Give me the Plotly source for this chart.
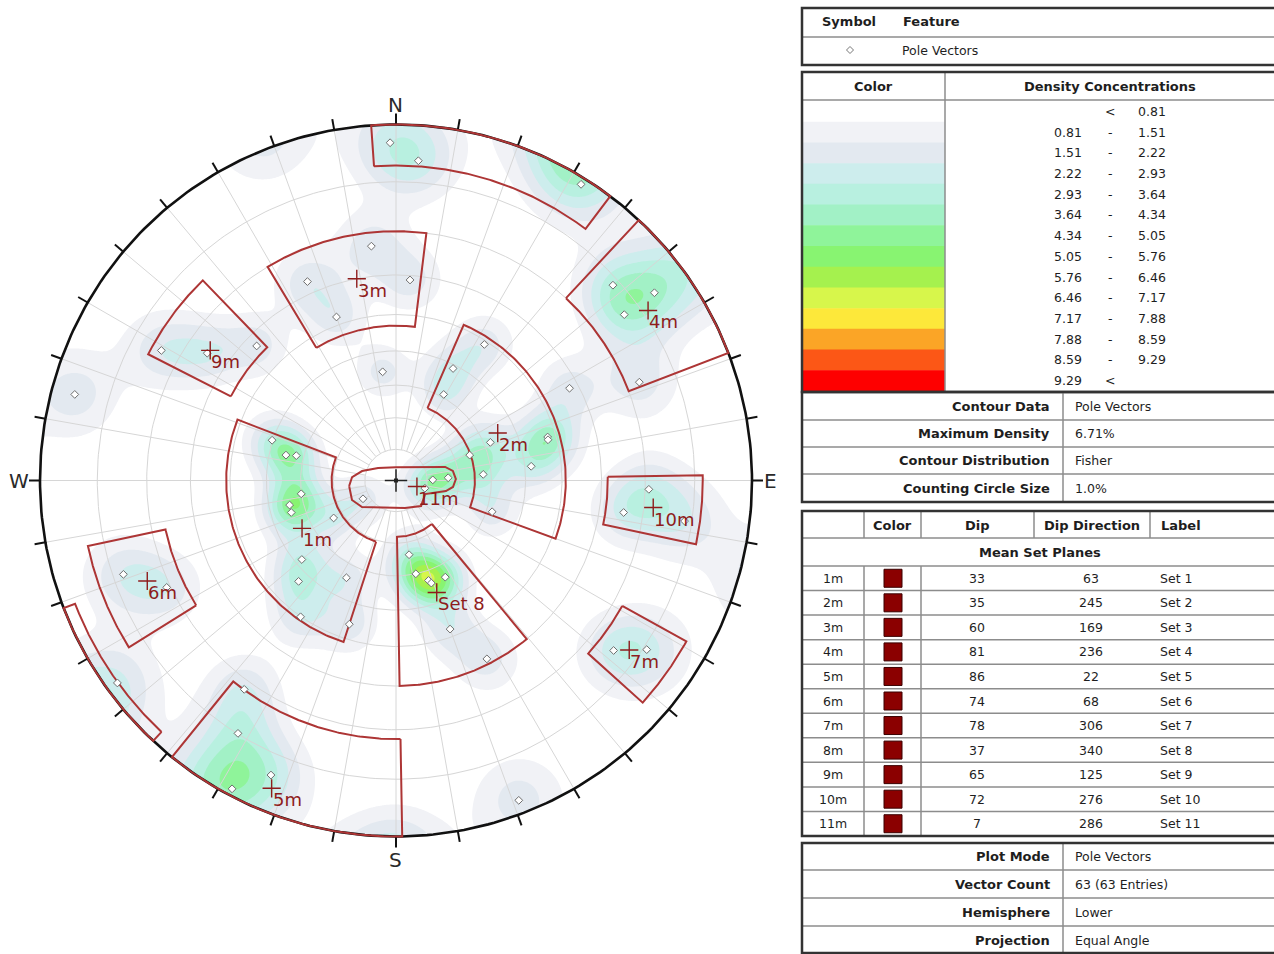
import numpy as np
import plotly.graph_objects as go

W, H = 1274, 954
CX, CY, R = 396.0, 480.5, 356.0   # stereonet centre and radius in page pixels

# ---- pole vectors (plane dip / dip direction, degrees) ----
pole_dip = [87.0, 67.0, 62.9, 52.1, 34.2, 74.0, 65.2, 57.1, 86.1, 40.2, 35.2, 32.2,
            84.0, 88.9, 78.7, 83.8, 76.8, 72.8, 58.9, 49.0, 38.9, 30.9, 57.8, 47.8,
            47.7, 31.9, 41.8, 27.6, 11.8, 16.7, 9.6, 31.7, 70.8, 65.7, 78.6, 23.9,
            30.0, 32.9, 33.9, 33.9, 47.9, 58.7, 75.6, 80.7, 87.8, 30.1, 34.1, 34.2,
            23.1, 12.1, 38.1, 43.0, 34.1, 50.1, 46.0, 78.0, 70.8, 88.1, 71.9, 79.9,
            83.9, 88.9, 24.7]
pole_dipdir = [179, 174, 156, 160, 173, 119, 124, 134, 105, 108, 103, 104,
               184, 212, 228, 234, 234, 248, 184, 213, 207, 209, 242, 254,
               255, 248, 264, 266, 269, 267, 285, 288, 272, 278, 278, 350,
               348, 342, 341, 333, 340, 333, 308, 304, 339, 82, 77, 73,
               59, 61, 50, 44, 27, 35, 18, 71, 65, 54, 36, 32,
               23, 28, 251]

# ---- mean set planes ----
set_ids = ["1m", "2m", "3m", "4m", "5m", "6m", "7m", "8m", "9m", "10m", "11m"]
set_dip = [33, 35, 60, 81, 86, 74, 78, 37, 65, 72, 7]
set_dipdir = [63, 245, 169, 236, 22, 68, 306, 340, 125, 276, 286]
set_labels = ["Set 1", "Set 2", "Set 3", "Set 4", "Set 5", "Set 6", "Set 7",
              "Set 8", "Set 9", "Set 10", "Set 11"]
set_plot_text = ["1m", "2m", "3m", "4m", "5m", "6m", "7m", "Set 8", "9m", "10m", "11m"]

# ---- set windows (dip direction / dip limits) for sets 1-10 ----
win_dd_lo = [18, 203.5, 149, 223, -1, 58, 299, 320.5, 117, 269]
win_dd_hi = [111, 290, 187, 249, 39, 78, 312, 359, 136, 282]
win_dip_lo = [20.5, 25, 47, 70, 72, 67, 72, 18, 55, 61.5]
win_dip_hi = [51, 51, 70, 92, 97, 83, 86, 60, 76, 81.5]
# dip-direction limits of the part of a window that wraps past the primitive
win_wrap_dd_lo = [None, None, None, 223, -4, None, None, None, None, None]
win_wrap_dd_hi = [None, None, None, 249, 37, None, None, None, None, None]

# ---- set 11 window outline (dip / dip direction of vertices) ----
set11_dip = [15.1, 14.1, 11.3, 7.0, 4.3, 8.9, 16.3, 18.4, 19.1, 18.3, 16.3, 10.3,
             11.5, 9.3, 13.8, 15.4]
set11_dipdir = [83.3, 94.5, 105.6, 124.8, 180, 240.6, 254.6, 260.5, 268.6, 276.5,
                281.9, 295, 315.6, 341.9, 52.1, 66.1]

# ---- density legend ----
density_levels = [0.81, 1.51, 2.22, 2.93, 3.64, 4.34, 5.05, 5.76, 6.46, 7.17, 7.88, 8.59, 9.29]
density_colors = ["#ffffff", "#f1f2f6", "#e3e9f0", "#cdeded", "#b8f0e0", "#a2f1c6",
                  "#8ff49a", "#88f471", "#a5f14e", "#d7f64b", "#fde83a", "#fba526",
                  "#fc5716", "#fe0000"]
max_density = 6.71
fisher_k = 100.0

RED = "#ad3535"
DARKRED = "#8e1c1c"


def proj(dip, dd):
    """Equal-angle lower-hemisphere position of the pole to a plane."""
    dip = np.asarray(dip, dtype=float)
    t = np.radians(np.asarray(dd, dtype=float) + 180.0)
    r = np.tan(np.radians(dip) / 2.0)
    return r * np.sin(t), r * np.cos(t)


def unit(dip, dd):
    d = np.radians(np.asarray(dip, dtype=float))
    t = np.radians(np.asarray(dd, dtype=float) + 180.0)
    return np.stack([np.sin(d) * np.sin(t), np.sin(d) * np.cos(t), np.cos(d)], axis=-1)


fig = go.Figure()

# ---- Fisher density of the poles ----
g = np.linspace(-1.03, 1.03, 421)
X, Y = np.meshgrid(g, g)
rho2 = X ** 2 + Y ** 2
U = np.stack([2 * X, 2 * Y, 1 - rho2], axis=-1) / (1 + rho2)[..., None]
P = unit(pole_dip, pole_dipdir)
dots = np.abs(U @ P.T)
dens = np.exp(fisher_k * (dots - 1.0)).sum(axis=-1)
inside = rho2 <= 1.0
dens = dens / dens[inside].max() * max_density

step = (density_levels[-1] - density_levels[0]) / 12
ncol = len(density_colors)
colorscale = [[i / (ncol - 1), c] for i, c in enumerate(density_colors)]
fig.add_trace(go.Contour(
    x=g, y=g, z=dens, colorscale=colorscale, showscale=False, hoverinfo="skip",
    autocontour=False,
    contours=dict(start=density_levels[0], end=density_levels[0] + 12 * step,
                  size=step, coloring="fill", showlines=False),
    line=dict(width=0)))

# white mask outside the primitive
th = np.radians(np.linspace(225, 585, 361))
mx = [-3, -3, 3, 3, -3] + list(np.cos(th)) + [-3]
my = [-3, 3, 3, -3, -3] + list(np.sin(th)) + [-3]
fig.add_trace(go.Scatter(x=mx, y=my, mode="lines", fill="toself", fillcolor="white",
                         line=dict(width=0, color="white"), hoverinfo="skip", showlegend=False))

# ---- polar grid ----
gx, gy = [], []
a = np.radians(np.linspace(0, 360, 361))
for d in range(10, 90, 10):
    r = np.tan(np.radians(d) / 2)
    gx += list(r * np.sin(a)) + [None]
    gy += list(r * np.cos(a)) + [None]
r10 = np.tan(np.radians(5))
for az in range(0, 360, 10):
    r0 = 0.0 if az % 90 == 0 else r10
    s, c = np.sin(np.radians(az)), np.cos(np.radians(az))
    gx += [r0 * s, s, None]
    gy += [r0 * c, c, None]
fig.add_trace(go.Scatter(x=gx, y=gy, mode="lines", line=dict(color="#d6d6d6", width=1),
                         hoverinfo="skip", showlegend=False))

# ---- primitive circle and ticks ----
fig.add_trace(go.Scatter(x=np.sin(a), y=np.cos(a), mode="lines",
                         line=dict(color="#111111", width=2.6), hoverinfo="skip", showlegend=False))
tx, ty = [], []
tick_len = 11 / R
for az in range(0, 360, 10):
    s, c = np.sin(np.radians(az)), np.cos(np.radians(az))
    tx += [s, (1 + tick_len) * s, None]
    ty += [c, (1 + tick_len) * c, None]
fig.add_trace(go.Scatter(x=tx, y=ty, mode="lines", line=dict(color="#111111", width=2),
                         hoverinfo="skip", showlegend=False))


# ---- set windows ----
def sector(d1, d2, a1, a2):
    aa = np.linspace(a1, a2, 120)
    x1, y1 = proj(np.full_like(aa, d1), aa)
    x2, y2 = proj(np.full_like(aa, d2), aa[::-1])
    xs = list(x1) + list(x2) + [x1[0], None]
    ys = list(y1) + list(y2) + [y1[0], None]
    return xs, ys


wx, wy = [], []
for lo, hi, d1, d2, wlo, whi in zip(win_dd_lo, win_dd_hi, win_dip_lo, win_dip_hi,
                                    win_wrap_dd_lo, win_wrap_dd_hi):
    xs, ys = sector(d1, min(d2, 90), lo, hi)
    wx += xs
    wy += ys
    if d2 > 90:
        xs, ys = sector(180 - d2, 90, wlo + 180, whi + 180)
        wx += xs
        wy += ys
sx, sy = proj(set11_dip, set11_dipdir)
wx += list(sx) + [sx[0], None]
wy += list(sy) + [sy[0], None]
fig.add_trace(go.Scatter(x=wx, y=wy, mode="lines", line=dict(color=RED, width=2),
                         hoverinfo="skip", showlegend=False))

# ---- pole vectors ----
px_, py_ = proj(pole_dip, pole_dipdir)
fig.add_trace(go.Scatter(x=px_, y=py_, mode="markers", hoverinfo="skip", showlegend=False,
                         marker=dict(symbol="diamond", size=6, color="white",
                                     line=dict(color="#6e6e6e", width=1))))

# ---- centre cross ----
fig.add_trace(go.Scatter(x=[0], y=[0], mode="markers", hoverinfo="skip", showlegend=False,
                         marker=dict(symbol="cross-thin", size=16,
                                     line=dict(color="#222222", width=1.5))))
fig.add_trace(go.Scatter(x=[0], y=[0], mode="markers", hoverinfo="skip", showlegend=False,
                         marker=dict(symbol="square", size=4, color="#222222")))

# ---- mean set poles ----
mx_, my_ = proj(set_dip, set_dipdir)
fig.add_trace(go.Scatter(x=mx_, y=my_, mode="markers", hoverinfo="skip", showlegend=False,
                         marker=dict(symbol="cross-thin", size=13,
                                     line=dict(color=DARKRED, width=1.4))))

annots = []
for x, y, t in zip(mx_, my_, set_plot_text):
    annots.append(dict(x=x, y=y, xref="x", yref="y", text=t, showarrow=False,
                       xanchor="left", yanchor="top", xshift=-1, yshift=1,
                       font=dict(family="DejaVu Sans", size=18, color=DARKRED)))

for lab, (qx, qy) in {"N": (395, 105), "S": (395, 860), "W": (19, 481), "E": (770, 481)}.items():
    annots.append(dict(x=(qx - CX) / R, y=(CY - qy) / R, xref="x", yref="y", text=lab,
                       showarrow=False, xanchor="center", yanchor="middle",
                       font=dict(family="DejaVu Sans", size=20, color="#2a2a2a")))

# ---- information tables ----
shapes = []
OUT = "#333333"
INN = "#8c8c8c"
TXT = "#1e1e1e"
XR = 1292


def fx(x):
    return x / W


def fy(y):
    return 1 - y / H


def seg(x0, y0, x1, y1, color=INN, width=1.5):
    shapes.append(dict(type="line", xref="paper", yref="paper", x0=fx(x0), y0=fy(y0),
                       x1=fx(x1), y1=fy(y1), line=dict(color=color, width=width)))


def rect(x0, y0, x1, y1, fill=None, color=OUT, width=2.5):
    shapes.append(dict(type="rect", xref="paper", yref="paper", x0=fx(x0), y0=fy(y0),
                       x1=fx(x1), y1=fy(y1), fillcolor=fill or "rgba(0,0,0,0)",
                       line=dict(color=color, width=width)))


def txt(x, y, s, anchor="left", bold=False, size=12.5):
    annots.append(dict(x=fx(x), y=fy(y), xref="paper", yref="paper",
                       text=f"<b>{s}</b>" if bold else s, showarrow=False,
                       xanchor=anchor, yanchor="middle",
                       font=dict(family="DejaVu Sans", size=13 if bold else size, color=TXT)))


# symbol table
seg(802, 37, XR, 37)
rect(802, 8, XR, 65)
txt(849, 22, "Symbol", "center", True)
txt(901, 22, "Feature", "left", True)
d = 3.5
shapes.append(dict(type="path", xref="paper", yref="paper",
                   path=f"M {fx(850)},{fy(50 - d)} L {fx(850 + d)},{fy(50)} L {fx(850)},{fy(50 + d)} "
                        f"L {fx(850 - d)},{fy(50)} Z",
                   line=dict(color="#777777", width=1), fillcolor="white"))
txt(900, 50, "Pole Vectors")

# density legend
top, bot = 101, 391
rh = (bot - top) / len(density_colors)
for i, c in enumerate(density_colors):
    rect(803, top + i * rh, 945, top + (i + 1) * rh + 0.5, fill=c, color=c, width=0)
for i in range(len(density_colors)):
    yc = top + (i + 0.5) * rh
    if i == 0:
        txt(1110, yc, "&lt;", "center")
        txt(1136, yc, f"{density_levels[0]:.2f}")
    elif i == len(density_colors) - 1:
        txt(1084, yc, f"{density_levels[-1]:.2f}", "right")
        txt(1110, yc, "&lt;", "center")
    else:
        txt(1084, yc, f"{density_levels[i - 1]:.2f}", "right")
        txt(1110, yc, "-", "center")
        txt(1136, yc, f"{density_levels[i]:.2f}")
seg(802, 100, XR, 100)
seg(945, 72, 945, 392)
txt(873, 86, "Color", "center", True)
txt(1110, 86, "Density Concentrations", "center", True)
rect(802, 72, XR, 392)

# contour info
info_rows = [("Contour Data", "Pole Vectors"), ("Maximum Density", f"{max_density:.2f}%"),
             ("Contour Distribution", "Fisher"), ("Counting Circle Size", "1.0%")]
edges = [392, 420, 447, 474, 502]
for i, (k, v) in enumerate(info_rows):
    yc = (edges[i] + edges[i + 1]) / 2
    txt(1052, yc, k, "right", True)
    txt(1073, yc, v)
    if 0 < i:
        seg(802, edges[i], XR, edges[i])
seg(1063, 392, 1063, 502)
rect(802, 392, XR, 502)

# mean set planes table
t0, hdr, msp, t1 = 511, 538, 566, 836
rr = (t1 - msp) / len(set_ids)
seg(802, hdr, XR, hdr)
seg(802, msp, XR, msp)
for xv in (864, 921, 1034, 1150):
    seg(xv, t0, xv, hdr)
for xv in (864, 921):
    seg(xv, msp, xv, t1)
txt(892, 525, "Color", "center", True)
txt(977, 525, "Dip", "center", True)
txt(1092, 525, "Dip Direction", "center", True)
txt(1159, 525, "Label", "left", True)
txt(1040, 552, "Mean Set Planes", "center", True)
for i, (sid, dp, dd, lb) in enumerate(zip(set_ids, set_dip, set_dipdir, set_labels)):
    yc = msp + (i + 0.5) * rr
    if i > 0:
        seg(802, msp + i * rr, XR, msp + i * rr)
    txt(833, yc, sid, "center")
    rect(884, yc - 9, 902, yc + 9, fill="#8b0000", color="#3a0000", width=1)
    txt(977, yc, str(dp), "center")
    txt(1091, yc, str(dd), "center")
    txt(1158, yc, lb)
rect(802, t0, XR, t1)

# plot info
plot_rows = [("Plot Mode", "Pole Vectors"), ("Vector Count", f"{len(pole_dip)} ({len(pole_dip)} Entries)"),
             ("Hemisphere", "Lower"), ("Projection", "Equal Angle")]
edges = [843, 870, 898, 926, 954]
for i, (k, v) in enumerate(plot_rows):
    yc = (edges[i] + edges[i + 1]) / 2
    txt(1052, yc, k, "right", True)
    txt(1073, yc, v)
    if i > 0:
        seg(802, edges[i], XR, edges[i])
seg(1063, 843, 1063, 960)
rect(802, 843, XR, 953)

fig.update_layout(
    width=W, height=H, margin=dict(l=0, r=0, t=0, b=0),
    paper_bgcolor="white", plot_bgcolor="white", showlegend=False,
    xaxis=dict(domain=[0, 2 * CX / W], range=[-CX / R, CX / R], visible=False,
               fixedrange=True, showgrid=False, zeroline=False),
    yaxis=dict(domain=[0, 1], range=[-(H - CY) / R, CY / R], visible=False,
               fixedrange=True, showgrid=False, zeroline=False),
    shapes=shapes, annotations=annots,
)

fig.write_html("out.html")
